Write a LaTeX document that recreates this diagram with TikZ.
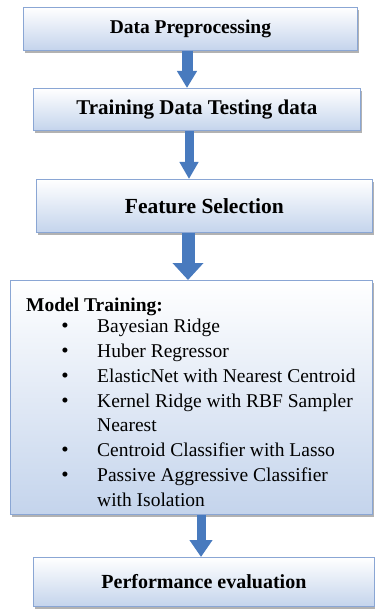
\documentclass[tikz,border=0pt]{standalone}
\usepackage{fontspec}
\setmainfont{Liberation Serif}
\usetikzlibrary{arrows.meta, positioning, shadows}

\definecolor{boxblue}{RGB}{196,212,236}
\definecolor{boxedge}{RGB}{138,166,212}
\definecolor{arrowblue}{RGB}{72,122,190}

\tikzset{
  stage/.style={draw=boxedge, line width=0.8pt, top color=white, bottom color=boxblue,
    drop shadow={shadow xshift=2pt, shadow yshift=-3pt, fill=black, opacity=0.3},
    inner sep=0pt, anchor=north west},
  flow/.style 2 args={draw=arrowblue, line width=#1, -{Triangle[length=17pt, width=#2]}},
  listtext/.style={anchor=base west, inner sep=0pt, font=\fontsize{19.5}{24}\selectfont}
}

\begin{document}
\begin{tikzpicture}[x=1pt, y=-1pt]
  \useasboundingbox (0,0) rectangle (374,609);

  % === STAGES ===
  \node[stage, minimum width=334pt, minimum height=43pt, font=\fontsize{19.5}{22}\selectfont\bfseries]
    (prep) at (23,7) {Data Preprocessing};
  \node[stage, minimum width=327pt, minimum height=42pt, font=\fontsize{21}{24}\selectfont\bfseries]
    (split) at (33,88) {Training Data Testing data};
  \node[stage, minimum width=336pt, minimum height=53pt, font=\fontsize{21.5}{24}\selectfont\bfseries]
    (feat) at (36,179) {Feature Selection};
  \node[stage, minimum width=362pt, minimum height=234pt] (train) at (10,280) {};
  \node[stage, minimum width=341pt, minimum height=49pt, font=\fontsize{20}{24}\selectfont\bfseries]
    (perf) at (33,557) {Performance evaluation};

  % === MODEL TRAINING LIST ===
  \node[listtext, font=\fontsize{19.5}{24}\selectfont\bfseries] (mtitle) at (26,311) {Model Training:};
  \foreach \py/\txt [count=\i] in {332/Bayesian Ridge, 357/Huber Regressor,
      382/ElasticNet with Nearest Centroid, 407/Kernel Ridge with RBF Sampler,
      431/Nearest, 456/Centroid Classifier with Lasso,
      481/Passive Aggressive Classifier, 506/with Isolation} {
    \node[listtext] (item\i) at (97,\py) {\txt};
  }
  \foreach \py [count=\i] in {332,357,382,407,456,481} {
    \node[listtext, anchor=base, font=\fontsize{21}{24}\selectfont] (dot\i) at (65,\py) {\textbullet};
  }

  % === ARROWS ===
  \coordinate (c1) at (187,0);
  \coordinate (c2) at (189,0);
  \coordinate (c3) at (188,0);
  \coordinate (c4) at (201,0);
  \draw[flow={11pt}{19pt}] (prep.south -| c1) -- (split.north -| c1);
  \draw[flow={9pt}{18pt}] (split.south -| c2) -- (feat.north -| c2);
  \draw[flow={13pt}{30pt}] (feat.south -| c3) -- (train.north -| c3);
  \draw[flow={9pt}{22pt}] (train.south -| c4) -- (perf.north -| c4);
\end{tikzpicture}
\end{document}
